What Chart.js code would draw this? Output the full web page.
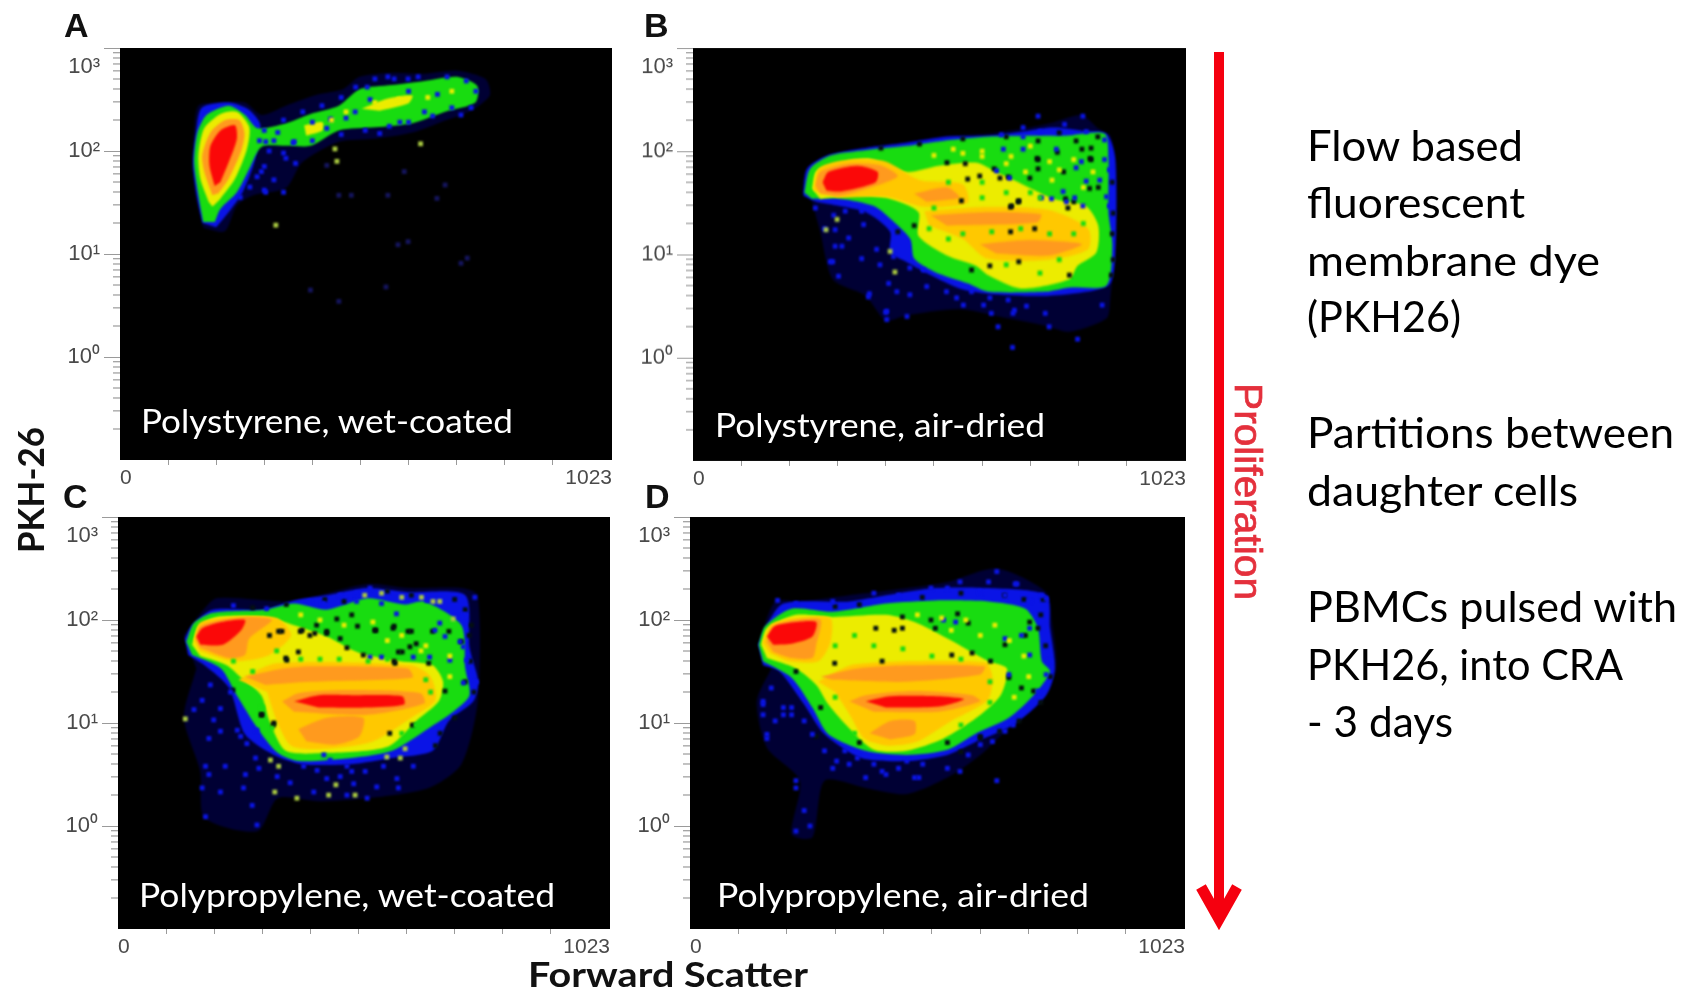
<!DOCTYPE html>
<html>
<head>
<meta charset="utf-8">
<title>PKH-26 vs Forward Scatter</title>
<script src="https://cdn.jsdelivr.net/npm/chart.js@4"></script>
<style>
  html, body { margin: 0; padding: 0; background: #fff; width: 1696px; height: 992px; overflow: hidden; }
  canvas { position: absolute; filter: blur(0.6px); }
  svg { position: absolute; left: 0; top: 0; filter: blur(0.4px); }
</style>
</head>
<body>
<canvas id="panelA"></canvas>
<canvas id="panelB"></canvas>
<canvas id="panelC"></canvas>
<canvas id="panelD"></canvas>

<svg width="1696" height="992" font-family="Lato">
  <g font-family="Liberation Sans" font-weight="700" font-size="34" fill="#111">
    <text x="64" y="37">A</text>
    <text x="644" y="37">B</text>
    <text x="63" y="508">C</text>
    <text x="645" y="508">D</text>
  </g>
  <g font-size="33" fill="#fff">
    <text x="141" y="433" textLength="372" lengthAdjust="spacingAndGlyphs">Polystyrene, wet-coated</text>
    <text x="715" y="437" textLength="330" lengthAdjust="spacingAndGlyphs">Polystyrene, air-dried</text>
    <text x="139" y="907" textLength="416" lengthAdjust="spacingAndGlyphs">Polypropylene, wet-coated</text>
    <text x="717" y="907" textLength="372" lengthAdjust="spacingAndGlyphs">Polypropylene, air-dried</text>
  </g>
  <text transform="translate(43.5,553) rotate(-90)" font-weight="700" font-size="36" fill="#111" textLength="126" lengthAdjust="spacingAndGlyphs">PKH-26</text>
  <text x="528" y="987" font-weight="700" font-size="34" fill="#111" textLength="280" lengthAdjust="spacingAndGlyphs">Forward Scatter</text>

  <!-- seta de proliferação -->
  <line x1="1219" y1="52" x2="1219" y2="915" stroke="#f5000f" stroke-width="10"/>
  <polyline points="1201,887 1219,919 1237,887" fill="none" stroke="#f5000f" stroke-width="11"/>
  <text transform="translate(1235,383) rotate(90)" font-family="Liberation Sans" font-size="38" fill="#e4303c" stroke="#e4303c" stroke-width="0.7" textLength="217" lengthAdjust="spacingAndGlyphs">Proliferation</text>

  <g font-size="42" fill="#000">
    <text x="1307" y="161" textLength="216" lengthAdjust="spacingAndGlyphs">Flow based</text>
    <text x="1307" y="218" textLength="218" lengthAdjust="spacingAndGlyphs">fluorescent</text>
    <text x="1307" y="276" textLength="293" lengthAdjust="spacingAndGlyphs">membrane dye</text>
    <text x="1307" y="332" textLength="154" lengthAdjust="spacingAndGlyphs">(PKH26)</text>
    <text x="1307" y="448" textLength="367" lengthAdjust="spacingAndGlyphs">Partitions between</text>
    <text x="1307" y="506" textLength="271" lengthAdjust="spacingAndGlyphs">daughter cells</text>
    <text x="1307" y="622" textLength="370" lengthAdjust="spacingAndGlyphs">PBMCs pulsed with</text>
    <text x="1307" y="680" textLength="316" lengthAdjust="spacingAndGlyphs">PKH26, into CRA</text>
    <text x="1307" y="737" textLength="146" lengthAdjust="spacingAndGlyphs">- 3 days</text>
  </g>
</svg>

<script>
// Eixos
const xTicks = [0, 100, 200, 300, 400, 500, 600, 700, 800, 900, 1023];
const yMajorTicks = [1, 10, 100, 1000];
const yMinorTicks = [0.2, 0.3, 0.4, 0.5, 0.6, 0.7, 0.8, 0.9, 2, 3, 4, 5, 6, 7, 8, 9, 20, 30, 40, 50, 60, 70, 80, 90, 200, 300, 400, 500, 600, 700, 800, 900];
const yLabels = { 1: '10⁰', 10: '10¹', 100: '10²', 1000: ['', '10³'] };

// Contornos de densidade: [Forward Scatter, décadas de PKH-26]
// Painel A
const aNavy = [[171,1.28],[158,1.54],[150,1.86],[154,2.18],[163,2.44],[209,2.47],[260,2.47],[294,2.35],[345,2.44],[413,2.55],[464,2.60],[498,2.72],[565,2.76],[633,2.75],[701,2.78],[760,2.70],[769,2.54],[726,2.38],[667,2.28],[608,2.18],[531,2.12],[455,2.09],[379,1.89],[345,1.64],[277,1.57],[243,1.47],[218,1.22],[175,1.25]];
const aBlue = [[172,1.30],[160,1.56],[152,1.88],[158,2.18],[170,2.42],[226,2.47],[268,2.40],[292,2.25],[280,1.90],[255,1.60],[225,1.40],[200,1.26]];
const aGreen = [[173,1.31],[163,1.57],[154,1.89],[161,2.18],[180,2.35],[226,2.44],[260,2.35],[286,2.22],[345,2.27],[396,2.36],[455,2.44],[498,2.60],[565,2.64],[633,2.68],[701,2.72],[743,2.63],[739,2.47],[676,2.38],[608,2.27],[531,2.23],[455,2.20],[396,2.05],[345,2.05],[294,2.04],[269,1.83],[243,1.60],[209,1.44],[197,1.31]];
const aYellow = [[184,1.51],[167,1.73],[163,1.96],[175,2.22],[209,2.36],[243,2.38],[269,2.23],[264,2.02],[239,1.73],[209,1.54],[192,1.46]];
const aYellowArm1 = [[502,2.41],[557,2.51],[608,2.54],[599,2.46],[540,2.39]];
const aYellowArm2 = [[383,2.25],[421,2.28],[421,2.20],[387,2.15]];
const aOrange = [[192,1.57],[175,1.80],[171,1.96],[188,2.18],[218,2.30],[248,2.30],[259,2.17],[252,2.00],[226,1.73],[205,1.59]];
const aRed = [[197,1.66],[186,1.86],[188,2.05],[209,2.20],[239,2.25],[243,2.12],[226,1.89],[209,1.70]];
const aArmDots = [[300,2.20],[340,2.30],[380,2.38],[420,2.44],[460,2.52],[490,2.62],[530,2.70],[570,2.70],[620,2.72],[680,2.72],[720,2.68],[740,2.58],[730,2.42],[690,2.42],[650,2.34],[600,2.28],[560,2.24],[510,2.20],[460,2.16],[430,2.22],[400,2.10],[360,2.08],[320,2.10],[290,2.10],[310,2.00],[340,1.98],[365,1.88],[300,1.85],[285,1.75],[320,1.72],[270,1.65],[250,1.55],[340,1.60],[300,1.62],[520,2.50],[600,2.58],[660,2.55],[470,2.32],[400,2.28],[540,2.17],[582,2.28],[633,2.38],[709,2.35],[362,2.09],[303,2.09],[328,2.18],[438,2.31],[489,2.38],[514,2.62],[599,2.70],[557,2.72],[294,1.80],[303,1.60],[345,1.93]];
const aFaint = [[599,1.12],[578,1.09],[722,0.96],[709,0.91],[553,0.68],[396,0.65],[455,0.54],[455,1.57],[481,1.57],[557,1.57],[591,1.80],[659,1.54],[676,1.67],[430,1.86]];
const aYellowDots = [[530,2.47],[580,2.50],[640,2.52],[690,2.58],[470,2.38],[440,2.30]];
const aDots = [[324,1.28],[451,1.90],[447,2.02],[625,2.07]];

// Painel B
const bNavy = [[226,1.60],[235,1.83],[281,1.97],[358,2.04],[442,2.09],[527,2.15],[612,2.17],[697,2.23],[748,2.28],[807,2.35],[841,2.22],[866,2.15],[879,1.86],[879,1.22],[866,0.57],[858,0.38],[781,0.25],[731,0.31],[654,0.38],[553,0.47],[442,0.41],[400,0.36],[358,0.60],[290,0.76],[264,1.22],[247,1.51]];
const bBlue = [[229,1.57],[237,1.83],[281,1.96],[358,2.03],[442,2.08],[527,2.14],[612,2.15],[697,2.20],[748,2.23],[807,2.20],[858,2.17],[876,1.93],[876,0.99],[862,0.70],[739,0.60],[612,0.62],[553,0.67],[493,0.80],[442,0.93],[409,1.02],[409,1.22],[358,1.41],[256,1.51]];
const bGreen = [[231,1.60],[243,1.83],[286,1.96],[358,2.01],[442,2.05],[519,2.10],[612,2.14],[697,2.15],[773,2.15],[854,2.17],[862,1.93],[862,1.41],[870,1.09],[858,0.70],[781,0.68],[731,0.64],[612,0.64],[570,0.72],[502,0.83],[459,0.96],[451,1.15],[409,1.35],[375,1.47],[307,1.54],[247,1.54]];
const bYellow = [[247,1.64],[256,1.81],[307,1.89],[366,1.93],[442,1.80],[510,1.86],[587,1.89],[629,1.80],[688,1.67],[748,1.54],[815,1.47],[841,1.28],[837,1.02],[798,0.89],[781,0.76],[680,0.67],[612,0.80],[587,0.89],[527,0.99],[468,1.18],[468,1.41],[409,1.54],[332,1.57],[264,1.54]];
const bAmber = [[250,1.62],[262,1.84],[324,1.92],[400,1.90],[470,1.72],[560,1.68],[570,1.50],[480,1.46],[400,1.56],[300,1.55]];
const bAmberBands = [[480,1.42],[610,1.46],[740,1.43],[820,1.25],[820,1.05],[740,0.95],[610,0.96],[560,1.15],[490,1.28]];
const bOrange = [[254,1.67],[264,1.80],[324,1.88],[392,1.86],[425,1.76],[383,1.67],[307,1.57],[264,1.59]];
const bOrangeBand1 = [[459,1.59],[527,1.65],[553,1.55],[485,1.51]];
const bOrangeBand2 = [[493,1.38],[612,1.41],[722,1.39],[714,1.31],[527,1.28]];
const bOrangeBand3 = [[595,1.10],[697,1.14],[807,1.10],[739,0.99],[629,1.01]];
const bRed = [[269,1.70],[281,1.80],[341,1.86],[383,1.80],[379,1.70],[307,1.61],[277,1.62]];
const bHoles = [[527,1.89],[565,1.88],[570,1.73],[595,1.76],[625,1.83],[654,1.75],[557,1.52],[676,1.52],[659,1.46],[714,1.93],[756,1.99],[807,2.02],[824,1.93],[773,1.54],[790,1.51],[769,1.80],[841,1.65],[659,1.22],[709,1.25],[459,1.28],[425,1.22],[578,0.85],[616,0.89],[676,0.93],[781,0.80],[716,2.10],[795,2.10],[826,2.03],[716,1.92],[716,1.83],[699,1.74],[637,1.74],[675,1.51],[661,1.47],[778,1.45],[826,1.92],[823,1.64],[870,1.70],[872,1.40],[870,1.20],[872,0.95],[868,0.80],[840,2.14],[760,2.18],[650,2.14],[560,2.12],[470,2.07],[390,2.03]];
const bSpecks = [[254,1.45],[292,1.38],[316,1.42],[350,1.42],[295,1.24],[323,1.16],[354,1.29],[295,1.08],[309,1.08],[381,1.05],[285,0.93],[350,0.96],[388,0.90],[302,0.79],[416,0.98],[450,0.87],[478,0.85],[406,0.72],[423,0.64],[364,0.59],[450,0.61],[485,0.69],[526,0.64],[561,0.51],[578,0.64],[402,0.45],[402,0.37],[444,0.40],[619,0.43],[664,0.43],[633,0.30],[692,0.50],[616,0.58],[654,0.56],[547,0.58],[273,1.25],[290,0.93],[400,0.44],[366,0.62],[603,0.51],[667,0.46],[731,0.43],[739,0.30],[798,0.18],[849,0.51],[663,0.10],[640,2.16],[685,2.14],[720,2.19],[771,2.26],[816,2.19],[854,2.11],[685,2.23],[716,2.34],[809,2.34],[685,2.02],[754,2.02],[806,1.90],[795,1.84],[816,1.71],[844,1.72],[854,1.92],[864,1.82],[858,1.56],[864,1.47],[723,1.55],[744,1.54],[792,1.55],[775,1.51],[768,1.61],[809,1.47],[644,2.02],[657,1.74],[630,1.81]];
const bDots = [[276,1.24],[299,1.34],[419,0.83],[409,1.03]];
const bYellowDots = [[540,2.02],[600,2.00],[660,1.95],[700,2.05],[740,1.90],[790,1.92],[830,1.80],[810,1.65],[745,1.72],[690,1.80],[600,1.95],[560,1.98],[500,1.96],[760,1.82],[650,1.88]];
const bGreenDots = [[530,1.70],[600,1.70],[650,1.60],[700,1.60],[500,1.45],[560,1.20],[620,1.22],[680,1.25],[740,1.20],[790,1.20],[810,1.30],[490,1.25],[530,1.15],[650,0.90],[720,0.82],[760,0.95],[600,1.55],[720,1.55]];

// Painel C
const cNavy = [[137,1.85],[171,2.06],[205,2.21],[349,2.18],[417,2.24],[519,2.35],[603,2.31],[714,2.31],[748,2.24],[748,1.21],[714,0.60],[646,0.37],[519,0.27],[417,0.24],[332,0.27],[290,-0.05],[180,0.08],[171,0.53],[137,1.05],[163,1.53]];
const cBlue = [[139,1.82],[154,1.95],[197,2.10],[298,2.10],[366,2.19],[434,2.24],[519,2.31],[603,2.27],[722,2.24],[731,1.73],[749,1.40],[739,1.21],[688,1.02],[654,0.73],[570,0.66],[485,0.60],[383,0.60],[324,0.69],[264,0.89],[231,1.34],[180,1.56],[146,1.66]];
const cGreen = [[142,1.79],[158,1.97],[197,2.07],[307,2.10],[366,2.16],[434,2.10],[519,2.21],[595,2.15],[637,2.18],[714,1.95],[722,1.53],[731,1.27],[697,1.11],[646,0.95],[570,0.73],[485,0.66],[375,0.63],[332,0.71],[290,0.95],[247,1.27],[214,1.53],[154,1.66]];
const cYellow = [[154,1.76],[167,1.94],[205,2.03],[307,2.03],[366,1.95],[434,1.84],[502,1.68],[587,1.60],[654,1.56],[676,1.40],[667,1.21],[620,1.02],[561,0.77],[434,0.71],[349,0.73],[315,1.02],[298,1.27],[256,1.44],[226,1.56],[171,1.65]];
const cAmber = [[158,1.80],[170,1.97],[215,2.02],[330,2.02],[360,1.85],[310,1.65],[240,1.60],[170,1.70]];
const cAmberBands = [[250,1.42],[330,1.58],[610,1.56],[650,1.45],[660,1.22],[610,1.05],[530,0.82],[430,0.75],[360,0.78],[330,1.02],[310,1.30]];
const cOrange = [[161,1.82],[171,1.94],[214,2.00],[273,2.03],[320,2.00],[273,1.82],[264,1.66],[231,1.63],[171,1.73]];
const cOrangeBand1 = [[264,1.45],[332,1.52],[400,1.55],[603,1.53],[612,1.44],[400,1.40],[307,1.37]];
const cOrangeBand2 = [[341,1.21],[375,1.29],[476,1.32],[629,1.29],[637,1.19],[519,1.08],[366,1.11]];
const cOrangeBand3 = [[375,0.94],[434,1.05],[510,1.05],[502,0.87],[451,0.79],[392,0.82]];
const cRed = [[163,1.84],[175,1.92],[214,1.98],[264,2.00],[256,1.90],[218,1.76],[171,1.76]];
const cRedBand = [[366,1.21],[417,1.27],[485,1.27],[591,1.26],[595,1.18],[519,1.15],[417,1.15]];
const cHoles = [[315,1.85],[341,1.89],[383,1.90],[409,1.87],[434,1.89],[476,1.73],[498,1.94],[536,1.90],[574,1.94],[603,1.89],[654,1.89],[688,1.89],[714,1.79],[591,1.69],[646,1.58],[574,1.60],[510,1.66],[349,1.63],[375,1.69],[620,1.77],[722,1.40],[680,1.31],[324,1.00],[298,1.08],[239,1.32],[612,0.98],[565,0.90],[334,1.89],[379,1.89],[399,1.85],[434,1.87],[462,1.82],[413,1.95],[486,2.05],[455,2.01],[534,1.90],[572,1.92],[610,1.89],[583,1.69],[607,1.74],[351,1.61],[576,1.58],[323,0.98],[299,1.08],[722,2.10],[700,2.20],[735,1.95],[733,1.60],[740,1.30],[700,1.05],[670,0.90],[660,0.78],[730,1.85],[610,2.24],[560,2.28],[470,2.18],[430,2.20],[350,2.15],[280,2.12]];
const cSpecks = [[192,1.37],[175,1.22],[158,1.13],[213,1.14],[234,1.30],[199,1.03],[248,0.93],[213,0.92],[189,0.85],[268,0.80],[255,0.87],[289,0.93],[286,0.66],[265,0.50],[293,0.56],[331,0.48],[358,0.42],[386,0.58],[414,0.54],[441,0.64],[476,0.58],[486,0.53],[514,0.53],[552,0.58],[580,0.46],[614,0.58],[538,0.38],[583,0.37],[490,0.41],[518,0.27],[476,0.30],[407,0.33],[261,0.37],[279,0.20],[289,0.01],[213,0.33],[175,0.37],[182,0.09],[189,0.50],[182,0.58],[223,0.58],[428,0.69],[462,0.48],[434,0.46],[524,2.31],[548,2.16],[579,2.06],[642,2.19],[659,1.90],[669,1.97],[704,2.03],[718,1.74],[725,1.61],[745,1.40],[718,1.39],[690,1.61],[648,1.64],[614,1.64],[524,1.64],[548,1.64],[399,2.18],[427,2.16],[462,2.24],[496,2.18],[240,2.14],[496,2.26],[309,2.11],[721,2.05],[742,2.22],[680,1.84],[711,1.79],[735,1.47]];
const cDots = [[140,1.04],[326,0.33],[372,0.27],[438,0.30],[493,0.30],[453,0.40],[334,0.58],[317,0.64],[597,0.75],[559,0.67],[587,0.66],[513,2.24],[590,2.22],[631,2.22],[548,2.26],[655,2.18],[669,2.18],[697,2.01]];
const cYellowDots = [[420,2.00],[470,1.95],[530,1.98],[590,1.85],[640,1.75],[690,1.65],[690,1.45],[630,1.70],[560,1.80],[380,2.05]];
const cGreenDots = [[240,1.60],[280,1.50],[330,1.70],[380,1.62],[420,1.62],[460,1.62],[520,1.60],[560,1.62],[640,1.42],[650,1.30],[300,1.15],[320,0.95],[590,0.90],[620,0.98]];

// Painel D
const dNavy = [[141,1.76],[176,2.18],[227,2.18],[329,2.24],[448,2.31],[532,2.37],[634,2.50],[736,2.27],[748,1.98],[757,1.53],[727,1.21],[659,0.95],[600,0.69],[532,0.47],[448,0.31],[363,0.37],[278,0.44],[253,-0.11],[210,-0.08],[227,0.44],[159,0.76],[138,1.21],[168,1.53]];
const dBlue = [[141,1.76],[155,1.92],[193,2.16],[329,2.18],[405,2.24],[507,2.31],[617,2.31],[736,2.24],[744,1.92],[754,1.53],[736,1.27],[668,0.98],[592,0.82],[532,0.69],[448,0.63],[354,0.66],[278,0.89],[236,1.18],[185,1.50],[151,1.56]];
const dGreen = [[142,1.76],[155,1.94],[210,2.11],[295,2.08],[405,2.16],[507,2.19],[617,2.18],[693,2.11],[719,1.92],[727,1.60],[744,1.50],[710,1.27],[659,1.05],[592,0.90],[532,0.74],[448,0.69],[363,0.73],[286,0.89],[253,1.15],[210,1.44],[151,1.60]];
const dYellow = [[147,1.76],[159,1.92],[219,2.05],[295,2.03],[405,2.05],[464,1.98],[532,1.82],[617,1.60],[655,1.53],[642,1.27],[592,1.05],[524,0.85],[448,0.73],[380,0.74],[329,0.95],[286,1.18],[261,1.37],[219,1.53],[159,1.63]];
const dAmber = [[150,1.78],[168,1.96],[220,2.02],[290,2.02],[290,1.78],[265,1.60],[205,1.60],[165,1.68]];
const dAmberBands = [[265,1.40],[340,1.57],[610,1.59],[625,1.45],[615,1.22],[540,1.02],[470,0.82],[410,0.78],[360,0.85],[330,1.08],[300,1.30]];
const dOrange = [[158,1.79],[172,1.94],[219,2.00],[270,2.00],[261,1.76],[253,1.63],[210,1.63],[172,1.69]];
const dOrangeBand1 = [[270,1.45],[346,1.53],[448,1.56],[609,1.55],[600,1.47],[448,1.40],[295,1.42]];
const dOrangeBand2 = [[329,1.21],[363,1.27],[464,1.31],[583,1.27],[600,1.21],[515,1.11],[380,1.11]];
const dOrangeBand3 = [[371,0.90],[414,1.02],[464,1.02],[464,0.89],[414,0.84]];
const dRed = [[159,1.84],[175,1.94],[219,1.98],[261,1.98],[253,1.84],[210,1.77],[172,1.76]];
const dRedBand = [[363,1.21],[414,1.26],[515,1.26],[566,1.23],[515,1.16],[405,1.15]];
const dHoles = [[384,1.92],[422,1.90],[439,2.03],[439,1.92],[507,1.92],[498,2.00],[553,2.06],[575,1.97],[541,1.66],[583,1.68],[621,1.60],[397,1.60],[299,1.58],[651,1.76],[693,1.85],[702,1.98],[719,1.92],[659,1.44],[685,1.34],[710,1.31],[270,1.15],[219,1.50],[261,0.87],[350,0.81],[600,0.87],[532,0.81],[730,2.20],[725,2.05],[735,1.75],[745,1.45],[725,1.20],[680,1.02],[640,0.92],[600,0.85],[560,0.72],[480,2.22],[560,2.26],[650,2.24],[690,2.20],[300,2.13],[350,2.15]];
const dSpecks = [[219,0.37],[236,0.15],[219,-0.05],[248,0.00],[405,0.50],[363,0.47],[464,0.47],[558,0.53],[634,0.44],[329,0.60],[151,1.18],[159,0.85],[193,1.08],[210,1.15],[634,2.47],[532,2.31],[558,2.37],[676,2.35],[736,2.21],[151,1.21],[168,1.34],[193,1.15],[176,1.02],[210,1.08],[236,1.02],[159,0.89],[253,0.89],[278,0.73],[303,0.63],[346,0.66],[320,0.73],[380,0.60],[431,0.56],[481,0.60],[532,0.56],[575,0.69],[600,0.79],[651,0.92],[473,0.47],[295,0.56],[219,0.44],[397,0.53],[448,0.63],[625,0.82],[668,0.98],[151,1.08],[617,2.37],[672,2.35],[727,2.24],[702,2.18],[651,2.24],[600,2.27],[498,2.31],[431,2.24],[380,2.26],[295,2.18],[219,2.16],[181,2.19],[702,1.92],[685,1.85],[651,1.82],[659,1.47],[736,1.47],[719,1.31],[702,1.66],[744,1.60],[549,1.98],[524,2.00]];
const dYellowDots = [[470,2.05],[520,2.02],[570,2.00],[630,1.95],[660,1.80],[690,1.65],[700,1.45],[670,1.25],[600,1.85],[540,1.90]];
const dGreenDots = [[300,1.75],[340,1.85],[380,1.75],[440,1.72],[500,1.65],[560,1.62],[620,1.40],[620,1.20],[300,1.25],[340,0.90],[560,0.98]];

// Cores do mapa de densidade
const NAVY = '#000034', BLUE = '#0a14e6', GREEN = '#18dc10', YELLOW = '#ecec00', AMBER = '#ffc800', ORANGE = '#ff9a1e', RED = '#fb0808';
const ESCURO = '#041010', CLARO = '#a8c840', FRACO = '#14145c';

// Geometria de cada painel na página
const paineis = [
    { id: 'panelA', left: 119.6, top: 47.5, width: 492.6, height: 412.5,
      contornos: [[NAVY, aNavy], [BLUE, aBlue], [GREEN, aGreen], [YELLOW, aYellow], [YELLOW, aYellowArm1], [YELLOW, aYellowArm2], [ORANGE, aOrange], [RED, aRed]],
      pontos: [[BLUE, aArmDots], [FRACO, aFaint], [YELLOW, aYellowDots], [CLARO, aDots]] },
    { id: 'panelB', left: 692.7, top: 48.3, width: 493.8, height: 412.4,
      contornos: [[NAVY, bNavy], [BLUE, bBlue], [GREEN, bGreen], [YELLOW, bYellow], [AMBER, bAmber], [AMBER, bAmberBands], [ORANGE, bOrange], [ORANGE, bOrangeBand1], [ORANGE, bOrangeBand2], [ORANGE, bOrangeBand3], [RED, bRed]],
      pontos: [[ESCURO, bHoles], [BLUE, bSpecks], [CLARO, bDots], [YELLOW, bYellowDots], [GREEN, bGreenDots]] },
    { id: 'panelC', left: 117.6, top: 516.7, width: 492.6, height: 412.3,
      contornos: [[NAVY, cNavy], [BLUE, cBlue], [GREEN, cGreen], [YELLOW, cYellow], [AMBER, cAmber], [AMBER, cAmberBands], [ORANGE, cOrange], [ORANGE, cOrangeBand1], [ORANGE, cOrangeBand2], [ORANGE, cOrangeBand3], [RED, cRed], [RED, cRedBand]],
      pontos: [[ESCURO, cHoles], [BLUE, cSpecks], [CLARO, cDots], [YELLOW, cYellowDots], [GREEN, cGreenDots]] },
    { id: 'panelD', left: 690.2, top: 516.7, width: 495.1, height: 412.3,
      contornos: [[NAVY, dNavy], [BLUE, dBlue], [GREEN, dGreen], [YELLOW, dYellow], [AMBER, dAmber], [AMBER, dAmberBands], [ORANGE, dOrange], [ORANGE, dOrangeBand1], [ORANGE, dOrangeBand2], [ORANGE, dOrangeBand3], [RED, dRed], [RED, dRedBand]],
      pontos: [[ESCURO, dHoles], [BLUE, dSpecks], [YELLOW, dYellowDots], [GREEN, dGreenDots]] }
];

const ESQ = 70, TOPO = 10, DIR = 12, BASE = 40;

function paraPontos(lista) {
    return lista.map(([x, decada]) => ({ x: x, y: Math.pow(10, decada) }));
}

// Fundo preto, desfoque dos contornos e marcas menores do eixo log
const pluginCitometria = {
    id: 'citometria',
    beforeDatasetsDraw(chart) {
        const { ctx, chartArea: a } = chart;
        ctx.save();
        ctx.fillStyle = '#000';
        ctx.fillRect(a.left, a.top, a.right - a.left, a.bottom - a.top);
        ctx.restore();
        ctx.save();
        ctx.filter = 'blur(1px)';
    },
    afterDatasetsDraw(chart) {
        const { ctx, chartArea: a, scales } = chart;
        ctx.restore();
        ctx.save();
        ctx.strokeStyle = '#9a9a9a';
        ctx.lineWidth = 1.2;
        yMinorTicks.forEach(v => {
            const y = scales.y.getPixelForValue(v);
            ctx.beginPath();
            ctx.moveTo(a.left - 7, y);
            ctx.lineTo(a.left, y);
            ctx.stroke();
        });
        ctx.restore();
    }
};

function criarPainel(p) {
    const canvas = document.getElementById(p.id);
    const w = p.width + ESQ + DIR, h = p.height + TOPO + BASE;
    canvas.style.left = (p.left - ESQ) + 'px';
    canvas.style.top = (p.top - TOPO) + 'px';
    canvas.style.width = w + 'px';
    canvas.style.height = h + 'px';
    canvas.width = w;
    canvas.height = h;

    const n = p.contornos.length + p.pontos.length;
    const datasets = [];
    p.contornos.forEach(([cor, lista], i) => {
        datasets.push({
            data: paraPontos(lista), showLine: true, fill: 'shape', backgroundColor: cor,
            borderWidth: 0, pointRadius: 0, tension: 0.25, order: n - i
        });
    });
    p.pontos.forEach(([cor, lista], i) => {
        datasets.push({
            data: paraPontos(lista), showLine: false, backgroundColor: cor, borderWidth: 0,
            pointStyle: 'rect', pointRadius: 3.4, order: p.pontos.length - i
        });
    });

    new Chart(canvas, {
        type: 'scatter',
        data: { datasets: datasets },
        plugins: [pluginCitometria],
        options: {
            responsive: false,
            animation: false,
            devicePixelRatio: 1,
            layout: { padding: { top: TOPO, right: DIR, left: 0, bottom: 0 } },
            plugins: { legend: { display: false }, tooltip: { enabled: false } },
            scales: {
                x: {
                    type: 'linear', min: 0, max: 1023,
                    afterBuildTicks: s => { s.ticks = xTicks.map(v => ({ value: v })); },
                    afterFit: s => { s.height = BASE; s.paddingLeft = 0; s.paddingRight = 0; },
                    border: { display: false },
                    grid: {
                        drawOnChartArea: false, tickLength: 5,
                        tickColor: ctx => (ctx.tick && (ctx.tick.value === 0 || ctx.tick.value === 1023)) ? 'transparent' : '#9a9a9a'
                    },
                    ticks: {
                        autoSkip: false, maxRotation: 0, align: 'inner', padding: 1, color: '#4a4a4a',
                        font: { family: 'Liberation Sans', size: 21 },
                        callback: v => (v === 0 || v === 1023) ? String(v) : ''
                    }
                },
                y: {
                    type: 'logarithmic', min: 0.1, max: 1000,
                    afterBuildTicks: s => { s.ticks = yMajorTicks.map(v => ({ value: v })); },
                    afterFit: s => { s.width = ESQ; s.paddingTop = 0; s.paddingBottom = 0; },
                    border: { display: false },
                    grid: { drawOnChartArea: false, tickLength: 16, tickColor: '#9a9a9a' },
                    ticks: {
                        autoSkip: false, padding: 4, color: '#4a4a4a',
                        font: { family: 'Liberation Sans', size: 22, lineHeight: 1.7 },
                        callback: v => yLabels[v]
                    }
                }
            }
        }
    });
}

paineis.forEach(criarPainel);
</script>
</body>
</html>
